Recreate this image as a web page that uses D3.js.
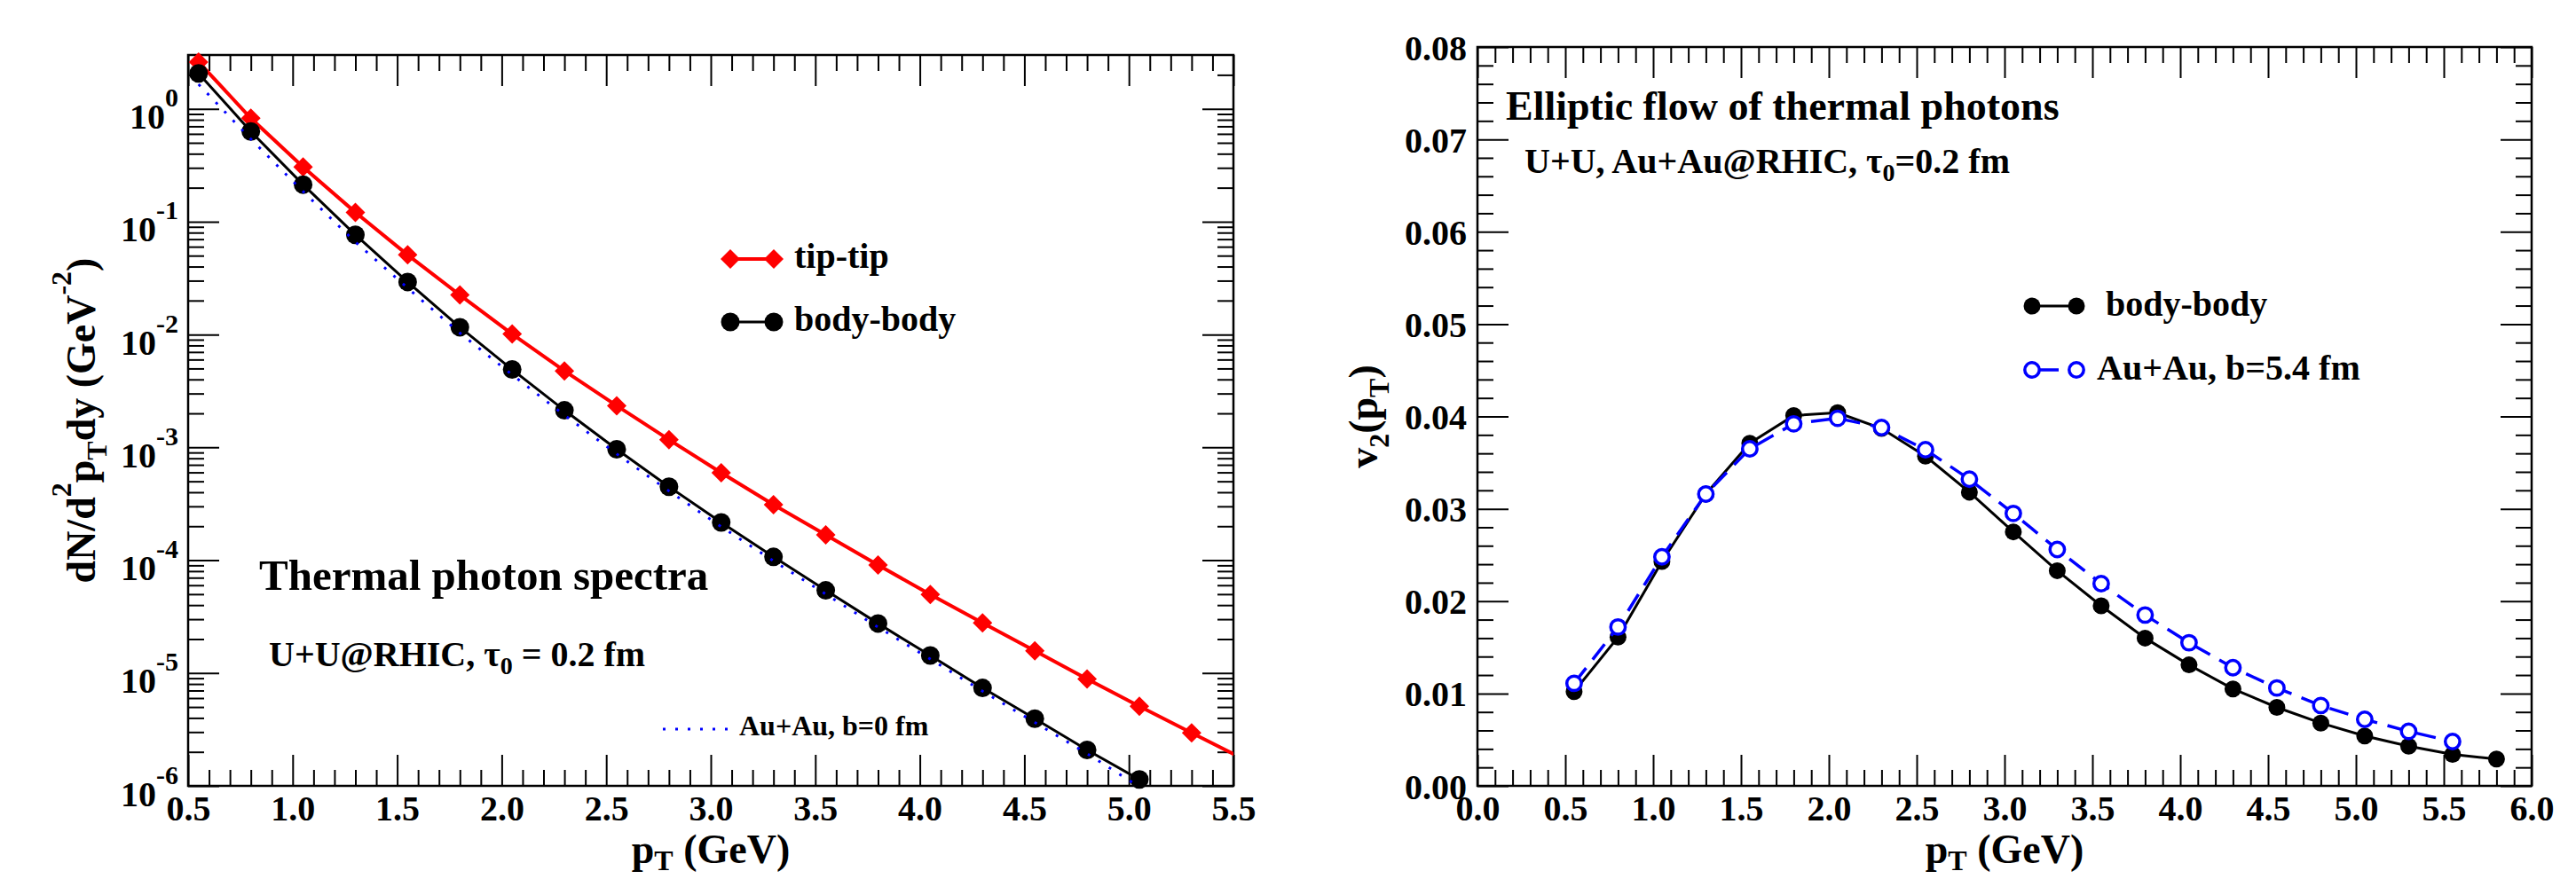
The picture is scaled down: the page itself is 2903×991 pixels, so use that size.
<!DOCTYPE html>
<html>
<head>
<meta charset="utf-8">
<script src="https://cdn.jsdelivr.net/npm/d3@7"></script>
<style>
  html, body { margin: 0; padding: 0; background: #fff; }
  svg { display: block; }
  text { font-family: "Liberation Serif", "Times New Roman", serif; font-weight: bold; fill: #000; }
</style>
</head>
<body>
<svg id="fig" width="2903" height="991"></svg>
<script>
// ---- Thermal photon spectra (left panel) ----
const ptSpec = [0.55, 0.80, 1.05, 1.30, 1.55, 1.80, 2.05, 2.30, 2.55, 2.80, 3.05,
                3.30, 3.55, 3.80, 4.05, 4.30, 4.55, 4.80, 5.05, 5.30, 5.55];
const tipTip = [2.6, 0.826, 0.305, 0.121, 0.0508, 0.0224, 0.0101, 0.00476, 0.00234,
                0.00117, 5.96e-4, 3.10e-4, 1.68e-4, 9.06e-5, 4.96e-5, 2.78e-5,
                1.57e-5, 8.85e-6, 5.07e-6, 2.95e-6, 1.72e-6];
const bodyBody = [2.06, 0.63, 0.213, 0.0765, 0.0292, 0.0116, 0.0049, 0.00213,
                  9.62e-4, 4.48e-4, 2.16e-4, 1.07e-4, 5.4e-5, 2.75e-5, 1.43e-5,
                  7.38e-6, 3.94e-6, 2.08e-6, 1.14e-6];
const auAuCentral = [1.65, 0.54, 0.185, 0.066, 0.0258, 0.0103, 0.0044, 0.00193,
                     8.75e-4, 4.1e-4, 1.98e-4, 9.85e-5, 5.0e-5, 2.55e-5, 1.33e-5,
                     6.9e-6, 3.65e-6, 1.93e-6, 0.98e-6];
const specXTicks = [0.5, 1.0, 1.5, 2.0, 2.5, 3.0, 3.5, 4.0, 4.5, 5.0, 5.5];
const specXLabels = ["0.5", "1.0", "1.5", "2.0", "2.5", "3.0", "3.5", "4.0", "4.5", "5.0", "5.5"];
const specYTicks = [1e-6, 1e-5, 1e-4, 1e-3, 1e-2, 1e-1, 1];
const specYExponents = ["-6", "-5", "-4", "-3", "-2", "-1", "0"];

// ---- Elliptic flow v2(pT) (right panel) ----
const ptFlow = [0.55, 0.80, 1.05, 1.30, 1.55, 1.80, 2.05, 2.30, 2.55, 2.80, 3.05,
                3.30, 3.55, 3.80, 4.05, 4.30, 4.55, 4.80, 5.05, 5.30, 5.55, 5.80];
const v2Body = [0.0102, 0.0161, 0.0243, 0.0316, 0.0371, 0.0401, 0.0404, 0.0387,
                0.0357, 0.0318, 0.0275, 0.0233, 0.0195, 0.0160, 0.0131, 0.0105,
                0.0085, 0.0068, 0.0054, 0.0043, 0.0034, 0.0029];
const v2AuAu = [0.0111, 0.0172, 0.0248, 0.0316, 0.0365, 0.0392, 0.0398, 0.0388,
                0.0364, 0.0332, 0.0295, 0.0256, 0.0219, 0.0185, 0.0155, 0.0128,
                0.0106, 0.0087, 0.0072, 0.0059, 0.0048];
const flowXTicks = [0, 0.5, 1, 1.5, 2, 2.5, 3, 3.5, 4, 4.5, 5, 5.5, 6];
const flowXLabels = ["0.0", "0.5", "1.0", "1.5", "2.0", "2.5", "3.0", "3.5", "4.0", "4.5", "5.0", "5.5", "6.0"];
const flowYTicks = [0, 0.01, 0.02, 0.03, 0.04, 0.05, 0.06, 0.07, 0.08];
const flowYLabels = ["0.00", "0.01", "0.02", "0.03", "0.04", "0.05", "0.06", "0.07", "0.08"];

const RED = "#ff0000", BLUE = "#0000ff", BLACK = "#000000";
const svg = d3.select("#fig");

// text built from runs: each run may shift the baseline (sub/superscripts)
function richText(parent, x, y, runs, anchor, rotate) {
  const t = parent.append("text")
    .attr("x", x).attr("y", y)
    .attr("text-anchor", anchor || "start");
  if (rotate) t.attr("transform", `rotate(${rotate},${x},${y})`);
  runs.forEach(r => {
    t.append("tspan").attr("font-size", r.size).attr("dy", r.dy || 0).text(r.t);
  });
  return t;
}

function styleTicks(g) {
  g.select(".domain").remove();
  g.selectAll(".tick line").attr("stroke", BLACK).attr("stroke-width", 2);
}

// draws inward major/minor ticks on all four sides
function frameTicks(g, x, y, xMajor, xMinor, yMajor, yMinor, box) {
  const MAJ = 35, MIN = 18;
  g.append("g").attr("transform", `translate(0,${box.y1})`)
    .call(d3.axisTop(x).tickValues(xMinor).tickSize(MIN).tickFormat("")).call(styleTicks);
  g.append("g").attr("transform", `translate(0,${box.y1})`).attr("class", "xmajor")
    .call(d3.axisTop(x).tickValues(xMajor).tickSize(MAJ)).call(styleTicks);
  g.append("g").attr("transform", `translate(0,${box.y0})`)
    .call(d3.axisBottom(x).tickValues(xMinor).tickSize(MIN).tickFormat("")).call(styleTicks);
  g.append("g").attr("transform", `translate(0,${box.y0})`)
    .call(d3.axisBottom(x).tickValues(xMajor).tickSize(MAJ).tickFormat("")).call(styleTicks);
  g.append("g").attr("transform", `translate(${box.x0},0)`)
    .call(d3.axisRight(y).tickValues(yMinor).tickSize(MIN).tickFormat("")).call(styleTicks);
  g.append("g").attr("transform", `translate(${box.x0},0)`).attr("class", "ymajor")
    .call(d3.axisRight(y).tickValues(yMajor).tickSize(MAJ)).call(styleTicks);
  g.append("g").attr("transform", `translate(${box.x1},0)`)
    .call(d3.axisLeft(y).tickValues(yMinor).tickSize(MIN).tickFormat("")).call(styleTicks);
  g.append("g").attr("transform", `translate(${box.x1},0)`)
    .call(d3.axisLeft(y).tickValues(yMajor).tickSize(MAJ).tickFormat("")).call(styleTicks);
  g.append("rect")
    .attr("x", box.x0).attr("y", box.y0)
    .attr("width", box.x1 - box.x0).attr("height", box.y1 - box.y0)
    .attr("fill", "none").attr("stroke", BLACK).attr("stroke-width", 2.5);
}

function clipRect(id, box) {
  svg.append("defs").append("clipPath").attr("id", id).append("rect")
    .attr("x", box.x0).attr("y", box.y0)
    .attr("width", box.x1 - box.x0).attr("height", box.y1 - box.y0);
}

const diamond = d3.symbol(d3.symbolSquare, 242);

// ================= Left panel =================
const boxL = { x0: 212, x1: 1390, y0: 62, y1: 886 };
const xL = d3.scaleLinear([0.5, 5.5], [boxL.x0, boxL.x1]);
const yL = d3.scaleLog([1e-6, 3], [boxL.y1, boxL.y0]);
clipRect("clipL", boxL);
const gL = svg.append("g");

const xMinorL = d3.range(5, 56).map(i => i / 10).filter(v => Math.abs(v * 2 - Math.round(v * 2)) > 1e-6);
const yMinorL = [];
for (let e = -6; e <= 0; e++) for (let k = 2; k <= 9; k++) {
  const v = k * Math.pow(10, e);
  if (v < 3) yMinorL.push(v);
}
frameTicks(gL, xL, yL, specXTicks, xMinorL, specYTicks, yMinorL, boxL);

gL.select(".xmajor").selectAll(".tick text")
  .attr("y", 39).attr("dy", null).attr("font-size", 40)
  .text((d, i) => specXLabels[i]);
gL.select(".ymajor").selectAll(".tick").each(function (d, i) {
  const tick = d3.select(this);
  tick.select("text").remove();
  richText(tick, -11, 22, [
    { t: "10", size: 40 },
    { t: specYExponents[i], size: 30, dy: -25 }
  ], "end");
});

const lineL = d3.line().x(d => xL(d[0])).y(d => yL(d[1]));
const redPts = ptSpec.map((p, i) => [p, tipTip[i]]);
const blackPts = bodyBody.map((v, i) => [ptSpec[i], v]);
const bluePts = auAuCentral.map((v, i) => [ptSpec[i], v]);
const inL = d => d[0] <= 5.5 && d[1] >= 1e-6;

const plotL = gL.append("g");
plotL.append("path").datum(redPts).attr("d", lineL).attr("clip-path", "url(#clipL)")
  .attr("fill", "none").attr("stroke", RED).attr("stroke-width", 4);
plotL.selectAll(".dia").data(redPts.filter(inL)).join("path")
  .attr("d", diamond).attr("fill", RED)
  .attr("transform", d => `translate(${xL(d[0])},${yL(d[1])}) rotate(45)`);
plotL.append("path").datum(blackPts).attr("d", lineL).attr("clip-path", "url(#clipL)")
  .attr("fill", "none").attr("stroke", BLACK).attr("stroke-width", 3);
plotL.selectAll(".dot").data(blackPts).join("circle")
  .attr("cx", d => xL(d[0])).attr("cy", d => yL(d[1])).attr("r", 10.5).attr("fill", BLACK);
plotL.append("path").datum(bluePts).attr("d", lineL).attr("clip-path", "url(#clipL)")
  .attr("fill", "none").attr("stroke", BLUE).attr("stroke-width", 3)
  .attr("stroke-dasharray", "3,11");

// legend
const legL = gL.append("g");
legL.append("line").attr("x1", 823).attr("x2", 872).attr("y1", 292).attr("y2", 292)
  .attr("stroke", RED).attr("stroke-width", 4);
[823, 872].forEach(x => legL.append("path").attr("d", diamond).attr("fill", RED)
  .attr("transform", `translate(${x},292) rotate(45)`));
richText(legL, 895, 302, [{ t: "tip-tip", size: 40 }]);
legL.append("line").attr("x1", 823).attr("x2", 872).attr("y1", 363).attr("y2", 363)
  .attr("stroke", BLACK).attr("stroke-width", 3);
[823, 872].forEach(x => legL.append("circle").attr("cx", x).attr("cy", 363).attr("r", 10.5).attr("fill", BLACK));
richText(legL, 895, 373, [{ t: "body-body", size: 40 }]);
legL.append("line").attr("x1", 747).attr("x2", 820).attr("y1", 822).attr("y2", 822)
  .attr("stroke", BLUE).attr("stroke-width", 3).attr("stroke-dasharray", "3,11");
richText(legL, 833, 829, [{ t: "Au+Au, b=0 fm", size: 32 }]);

// annotations
richText(gL, 292, 665, [{ t: "Thermal photon spectra", size: 49 }]);
richText(gL, 303, 751, [
  { t: "U+U@RHIC, τ", size: 40 },
  { t: "0", size: 28, dy: 9 },
  { t: " = 0.2 fm", size: 40, dy: -9 }
]);

// axis titles
richText(gL, (boxL.x0 + boxL.x1) / 2, 973, [
  { t: "p", size: 46 },
  { t: "T", size: 32, dy: 8 },
  { t: " (GeV)", size: 46, dy: -8 }
], "middle");
richText(gL, 107, (boxL.y0 + boxL.y1) / 2, [
  { t: "dN/d", size: 46 },
  { t: "2", size: 32, dy: -27 },
  { t: "p", size: 46, dy: 27 },
  { t: "T", size: 32, dy: 13 },
  { t: "dy (GeV", size: 46, dy: -13 },
  { t: "-2", size: 32, dy: -27 },
  { t: ")", size: 46, dy: 27 }
], "middle", -90);

// ================= Right panel =================
const boxR = { x0: 1665, x1: 2853, y0: 53, y1: 886 };
const xR = d3.scaleLinear([0, 6], [boxR.x0, boxR.x1]);
const yR = d3.scaleLinear([0, 0.08], [boxR.y1, boxR.y0]);
clipRect("clipR", boxR);
const gR = svg.append("g");

const xMinorR = d3.range(0, 61).map(i => i / 10).filter(v => Math.abs(v * 2 - Math.round(v * 2)) > 1e-6);
const yMinorR = d3.range(0, 41).map(i => i * 0.002).filter(v => Math.abs(v * 100 - Math.round(v * 100)) > 1e-6);
frameTicks(gR, xR, yR, flowXTicks, xMinorR, flowYTicks, yMinorR, boxR);

gR.select(".xmajor").selectAll(".tick text")
  .attr("y", 39).attr("dy", null).attr("font-size", 40)
  .text((d, i) => flowXLabels[i]);
gR.select(".ymajor").selectAll(".tick text")
  .attr("x", -12).attr("dy", null).attr("y", 14).attr("font-size", 40)
  .attr("text-anchor", "end")
  .text((d, i) => flowYLabels[i]);

const lineR = d3.line().x(d => xR(d[0])).y(d => yR(d[1]));
const v2BodyPts = v2Body.map((v, i) => [ptFlow[i], v]);
const v2AuAuPts = v2AuAu.map((v, i) => [ptFlow[i], v]);

const plotR = gR.append("g");
plotR.append("path").datum(v2BodyPts).attr("d", lineR).attr("clip-path", "url(#clipR)")
  .attr("fill", "none").attr("stroke", BLACK).attr("stroke-width", 3);
plotR.selectAll(".dot").data(v2BodyPts).join("circle")
  .attr("cx", d => xR(d[0])).attr("cy", d => yR(d[1])).attr("r", 9.5).attr("fill", BLACK);
plotR.append("path").datum(v2AuAuPts).attr("d", lineR).attr("clip-path", "url(#clipR)")
  .attr("fill", "none").attr("stroke", BLUE).attr("stroke-width", 3.5)
  .attr("stroke-dasharray", "22,12");
plotR.selectAll(".ring").data(v2AuAuPts).join("circle")
  .attr("cx", d => xR(d[0])).attr("cy", d => yR(d[1])).attr("r", 8.2)
  .attr("fill", "#fff").attr("stroke", BLUE).attr("stroke-width", 3.5);

// legend
const legR = gR.append("g");
legR.append("line").attr("x1", 2290).attr("x2", 2340).attr("y1", 345).attr("y2", 345)
  .attr("stroke", BLACK).attr("stroke-width", 3);
[2290, 2340].forEach(x => legR.append("circle").attr("cx", x).attr("cy", 345).attr("r", 9.5).attr("fill", BLACK));
richText(legR, 2373, 356, [{ t: "body-body", size: 40 }]);
legR.append("line").attr("x1", 2290).attr("x2", 2340).attr("y1", 417).attr("y2", 417)
  .attr("stroke", BLUE).attr("stroke-width", 3.5).attr("stroke-dasharray", "22,12")
  .attr("stroke-dashoffset", -8);
[2290, 2340].forEach(x => legR.append("circle").attr("cx", x).attr("cy", 417).attr("r", 8.2)
  .attr("fill", "#fff").attr("stroke", BLUE).attr("stroke-width", 3.5));
richText(legR, 2363, 428, [{ t: "Au+Au, b=5.4 fm", size: 40 }]);

// annotations
richText(gR, 1697, 135, [{ t: "Elliptic flow of thermal photons", size: 46 }]);
richText(gR, 1718, 195, [
  { t: "U+U, Au+Au@RHIC, τ", size: 40 },
  { t: "0", size: 28, dy: 9 },
  { t: "=0.2 fm", size: 40, dy: -9 }
]);

// axis titles
richText(gR, (boxR.x0 + boxR.x1) / 2, 973, [
  { t: "p", size: 46 },
  { t: "T", size: 32, dy: 8 },
  { t: " (GeV)", size: 46, dy: -8 }
], "middle");
richText(gR, 1552, (boxR.y0 + boxR.y1) / 2, [
  { t: "v", size: 46 },
  { t: "2", size: 32, dy: 13 },
  { t: "(p", size: 46, dy: -13 },
  { t: "T", size: 32, dy: 13 },
  { t: ")", size: 46, dy: -13 }
], "middle", -90);
</script>
</body>
</html>
